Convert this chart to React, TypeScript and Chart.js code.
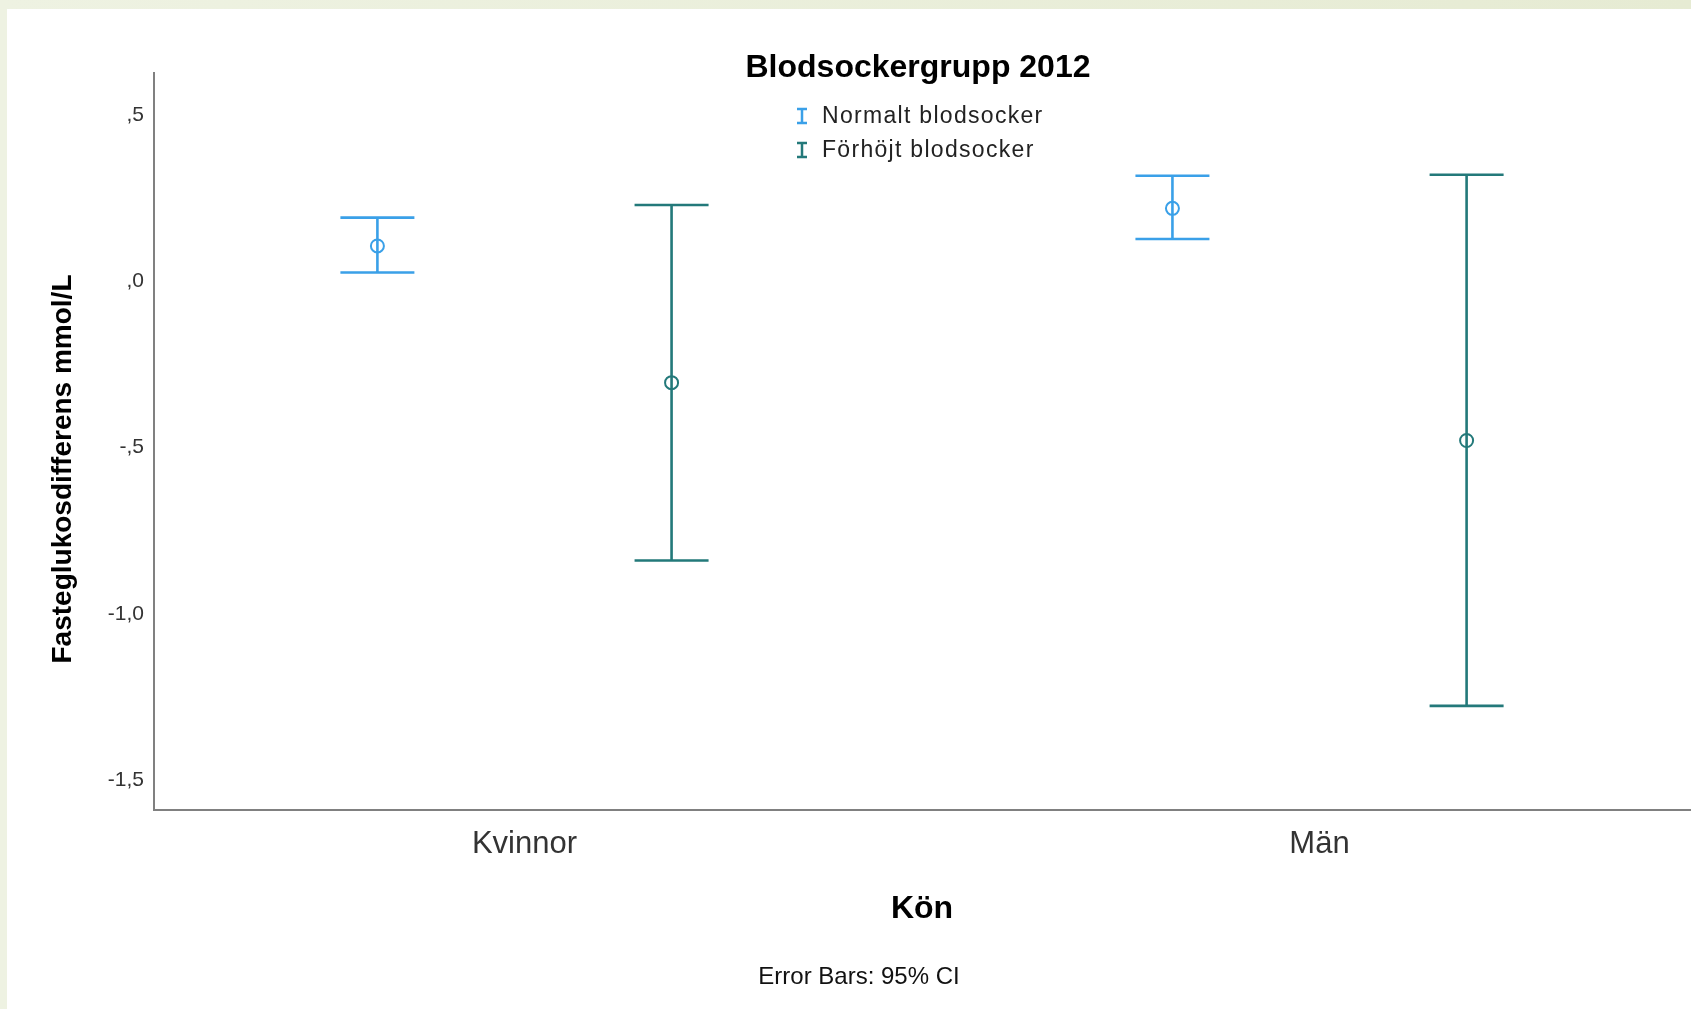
import React, { useEffect, useRef } from "react";
import { Chart, registerables } from "chart.js";

Chart.register(...registerables);

// ---------- data ----------
const categories = ["Kvinnor", "Män"];
const seriesNames = ["Normalt blodsocker", "Förhöjt blodsocker"];
const normalMean = [0.106, 0.219];
const normalLow = [0.026, 0.127];
const normalHigh = [0.191, 0.317];
const hojtMean = [-0.305, -0.479];
const hojtLow = [-0.84, -1.277];
const hojtHigh = [0.229, 0.32];
const yTickValues = [-1.5, -1.0, -0.5, 0, 0.5];
const yTickLabels = ["-1,5", "-1,0", "-,5", ",0", ",5"];
const chartTitle = "Blodsockergrupp 2012";
const yTitle = "Fasteglukosdifferens mmol/L";
const xTitle = "Kön";
const footnote = "Error Bars: 95% CI";

// ---------- style ----------
const COLORS = ["#3AA0E8", "#23797A"];
const FONT = "'Liberation Sans', Arial, sans-serif";
const CLUSTER_OFFSETS = [-0.185, 0.185];
const CAP_HALF = 37;
const AXIS_COLOR = "#808080";

const means = [normalMean, hojtMean];
const lows = [normalLow, hojtLow];
const highs = [normalHigh, hojtHigh];

const errorBarPlugin = {
  id: "errorBars",
  beforeDatasetsDraw(chart: any) {
    const { ctx } = chart;
    const xs = chart.scales.x;
    const ys = chart.scales.y;
    ctx.save();
    chart.data.datasets.forEach((ds: any, s: number) => {
      ds.data.forEach((pt: any, i: number) => {
        const px = xs.getPixelForValue(pt.x);
        const yl = ys.getPixelForValue(lows[s][i]);
        const yh = ys.getPixelForValue(highs[s][i]);
        ctx.strokeStyle = COLORS[s];
        ctx.lineWidth = 2.6;
        ctx.beginPath();
        ctx.moveTo(px, yl);
        ctx.lineTo(px, yh);
        ctx.moveTo(px - CAP_HALF, yl);
        ctx.lineTo(px + CAP_HALF, yl);
        ctx.moveTo(px - CAP_HALF, yh);
        ctx.lineTo(px + CAP_HALF, yh);
        ctx.stroke();
      });
    });
    ctx.restore();
  },
};

const textPlugin = {
  id: "texts",
  afterDraw(chart: any) {
    const { ctx } = chart;
    ctx.save();
    // title
    ctx.fillStyle = "#000";
    ctx.font = `bold 32px ${FONT}`;
    ctx.textAlign = "center";
    ctx.textBaseline = "middle";
    ctx.fillText(chartTitle, 911, 59);

    // legend
    const rows = [107, 141];
    seriesNames.forEach((name, s) => {
      const cx = 795;
      const cy = rows[s];
      ctx.strokeStyle = COLORS[s];
      ctx.lineWidth = 2.5;
      ctx.beginPath();
      ctx.moveTo(cx, cy - 7);
      ctx.lineTo(cx, cy + 7);
      ctx.moveTo(cx - 5, cy - 7);
      ctx.lineTo(cx + 5, cy - 7);
      ctx.moveTo(cx - 5, cy + 7);
      ctx.lineTo(cx + 5, cy + 7);
      ctx.stroke();
      ctx.fillStyle = "#222";
      ctx.font = `23px ${FONT}`;
      (ctx as any).letterSpacing = "1.3px";
      ctx.textAlign = "left";
      ctx.textBaseline = "middle";
      ctx.fillText(name, 815, cy + 1);
      (ctx as any).letterSpacing = "0px";
    });

    // y axis title
    ctx.save();
    ctx.translate(64, 460);
    ctx.rotate(-Math.PI / 2);
    ctx.fillStyle = "#000";
    ctx.font = `bold 28px ${FONT}`;
    ctx.textAlign = "center";
    ctx.textBaseline = "alphabetic";
    ctx.fillText(yTitle, 0, 0);
    ctx.restore();

    // footnote
    ctx.fillStyle = "#111";
    ctx.font = `24px ${FONT}`;
    ctx.textAlign = "center";
    ctx.textBaseline = "middle";
    ctx.fillText(footnote, 852, 968);
    ctx.restore();
  },
};

export default function App() {
  const ref = useRef<HTMLCanvasElement | null>(null);

  useEffect(() => {
    if (!ref.current) return;
    const datasets = seriesNames.map((name, s) => ({
      label: name,
      data: categories.map((_, i) => ({ x: i + 1 + CLUSTER_OFFSETS[s], y: means[s][i] })),
      pointStyle: "circle",
      pointRadius: 6.5,
      pointBorderWidth: 2,
      pointBorderColor: COLORS[s],
      pointBackgroundColor: "rgba(0,0,0,0)",
      showLine: false,
    }));

    const chart = new Chart(ref.current, {
      type: "scatter",
      data: { datasets },
      plugins: [errorBarPlugin, textPlugin],
      options: {
        animation: false,
        responsive: false,
        maintainAspectRatio: false,
        layout: { autoPadding: false, padding: { top: 64, right: 1, left: 0, bottom: 0 } },
        plugins: {
          legend: { display: false },
          tooltip: { enabled: false },
          title: { display: false },
        },
        scales: {
          x: {
            type: "linear",
            min: 0.534,
            max: 2.466,
            afterBuildTicks: (s: any) => {
              s.ticks = categories.map((_, i) => ({ value: i + 1 }));
            },
            afterFit: (s: any) => {
              s.height = 199;
            },
            ticks: {
              callback: (v: any) => categories[Math.round(Number(v)) - 1] ?? "",
              font: { family: FONT, size: 31 },
              color: "#333",
              padding: 16,
              autoSkip: false,
              maxRotation: 0,
            },
            grid: { display: false, drawTicks: false },
            border: { display: true, color: AXIS_COLOR, width: 2 },
            title: {
              display: true,
              text: xTitle,
              color: "#000",
              font: { family: FONT, size: 32, weight: "bold" },
              padding: { top: 0, bottom: 81 },
            },
          },
          y: {
            type: "linear",
            min: -1.59,
            max: 0.626,
            afterBuildTicks: (s: any) => {
              s.ticks = yTickValues.map((v) => ({ value: v }));
            },
            afterFit: (s: any) => {
              s.width = 147;
            },
            ticks: {
              callback: (v: any) => yTickLabels[yTickValues.indexOf(Number(v))] ?? "",
              font: { family: FONT, size: 21 },
              color: "#333",
              padding: 10,
            },
            grid: { display: false, drawTicks: false },
            border: { display: true, color: AXIS_COLOR, width: 2 },
          },
        },
      } as any,
    });
    return () => chart.destroy();
  }, []);

  return (
    <div
      style={{
        position: "fixed",
        left: 0,
        top: 0,
        width: 1691,
        height: 1009,
        background: "linear-gradient(90deg, #EEF2E2 0%, #E6EBD3 100%)",
        overflow: "hidden",
      }}
    >
      <canvas
        ref={ref}
        width={1684}
        height={1000}
        style={{ position: "absolute", left: 7, top: 9, width: 1684, height: 1000, background: "#fff" }}
      />
    </div>
  );
}
